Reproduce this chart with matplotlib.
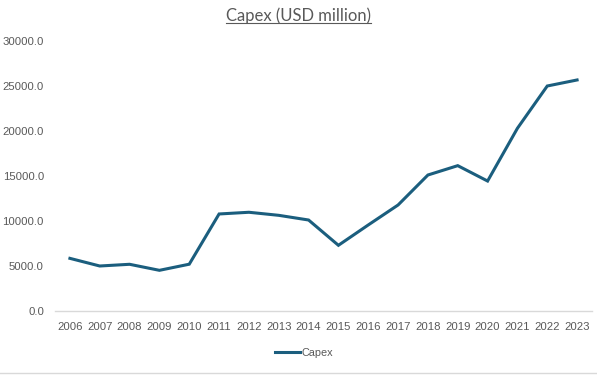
import matplotlib.pyplot as plt
from matplotlib.lines import Line2D

years = [str(y) for y in range(2006, 2024)]
capex = [5850, 5000, 5190, 4520, 5200, 10780, 10970, 10630, 10110, 7300,
         9560, 11780, 15110, 16150, 14440, 20300, 25000, 25670]
y_ticks = [0, 5000, 10000, 15000, 20000, 25000, 30000]

line_color = "#1B5E7E"
text_color = "#595959"

plt.rcParams["font.family"] = ["Liberation Sans", "DejaVu Sans"]

fig = plt.figure(figsize=(5.97, 3.75), dpi=100)
W, H = 597, 375
ax = fig.add_axes([55 / W, 1 - 311 / H, (592 - 55) / W, (311 - 41) / H])

x = list(range(len(years)))
ax.plot(x, capex, color=line_color, linewidth=2.2, solid_joinstyle="miter",
        label="Capex")

ax.set_xlim(-0.5, len(years) - 0.5)
ax.set_ylim(0, 30000)
ax.set_xticks(x)
ax.set_xticklabels(years)
ax.set_yticks(y_ticks)
ax.set_yticklabels([f"{v:.1f}" for v in y_ticks])

for side in ["top", "right", "left"]:
    ax.spines[side].set_visible(False)
ax.spines["bottom"].set_color("#D9D9D9")
ax.spines["bottom"].set_linewidth(1.0)
ax.tick_params(axis="both", length=0, labelsize=8.2, colors=text_color)
ax.tick_params(axis="x", pad=8)
ax.tick_params(axis="y", pad=8)

title = fig.text(0.5, 1 - 16 / H, "Capex (USD million)", ha="center",
                 va="center", fontsize=12, color=text_color, family="Lato")

leg = fig.legend(loc="center", bbox_to_anchor=(304 / W, 1 - 353 / H),
                 frameon=False, handlelength=2.3, handletextpad=0.1,
                 labelcolor=text_color, prop={"size": 7.8})

# underline under the title
fig.canvas.draw()
bb = title.get_window_extent().transformed(fig.transFigure.inverted())
fig.add_artist(Line2D([bb.x0, bb.x1], [bb.y0 + 0.004, bb.y0 + 0.004],
                      color=text_color, linewidth=0.8,
                      transform=fig.transFigure))

# faint sheet line along the bottom edge
fig.add_artist(Line2D([0, 1], [1 - 373 / H, 1 - 373 / H], color="#D9D9D9",
                      linewidth=1.0, transform=fig.transFigure))

fig.savefig("out.png", dpi=100)
